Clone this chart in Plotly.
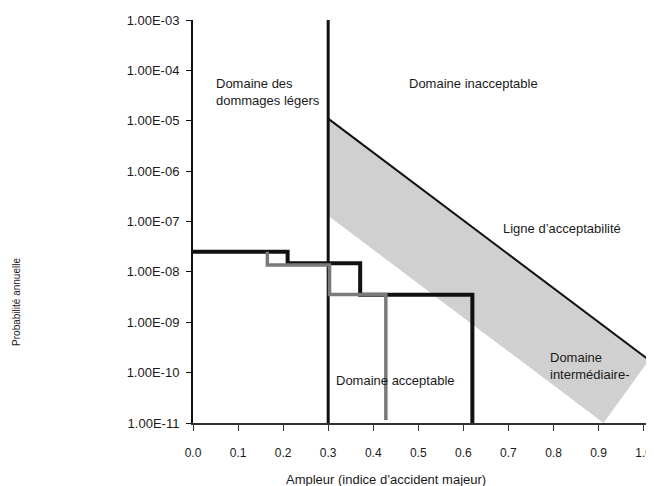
import numpy as np
import plotly.graph_objects as go

# ---- data ----
x_tick_vals = [0.0, 0.1, 0.2, 0.3, 0.4, 0.5, 0.6, 0.7, 0.8, 0.9, 1.0]
x_tick_text = ["0.0", "0.1", "0.2", "0.3", "0.4", "0.5", "0.6", "0.7", "0.8", "0.9", "1.0"]
y_tick_vals = [1e-11, 1e-10, 1e-9, 1e-8, 1e-7, 1e-6, 1e-5, 1e-4, 1e-3]
y_tick_text = ["1.00E-11", "1.00E-10", "1.00E-09", "1.00E-08", "1.00E-07",
               "1.00E-06", "1.00E-05", "1.00E-04", "1.00E-03"]

# boundary of the "domaine des dommages légers"
limit_x = [0.3, 0.3]
limit_y = [1e-11, 1e-3]

# acceptability line
accept_x = [0.3, 1.012]
accept_y = [1.1e-5, 1.78e-10]

# intermediate (gray) band polygon
band_x = [0.3, 1.012, 0.911, 0.3, 0.3]
band_y = [1.1e-5, 1.78e-10, 1e-11, 1.3e-7, 1.1e-5]

# black staircase
black_x = [0.0, 0.21, 0.21, 0.371, 0.371, 0.62, 0.62]
black_y = [2.5e-8, 2.5e-8, 1.48e-8, 1.48e-8, 3.5e-9, 3.5e-9, 1e-11]

# gray staircase
gray_x = [0.165, 0.165, 0.303, 0.303, 0.428, 0.428]
gray_y = [2.5e-8, 1.37e-8, 1.37e-8, 3.55e-9, 3.55e-9, 1.15e-11]

FONT = "Liberation Sans, Arial, sans-serif"
TXT = "#1a1a1a"

fig = go.Figure()
fig.add_trace(go.Scatter(x=band_x, y=band_y, mode="lines", fill="toself",
                         fillcolor="#d0d0d0", line=dict(width=0, color="#d0d0d0"),
                         hoverinfo="skip", showlegend=False))
fig.add_trace(go.Scatter(x=accept_x, y=accept_y, mode="lines",
                         line=dict(color="#111111", width=2), showlegend=False))
fig.add_trace(go.Scatter(x=limit_x, y=limit_y, mode="lines",
                         line=dict(color="#111111", width=3), showlegend=False))
fig.add_trace(go.Scatter(x=black_x, y=black_y, mode="lines",
                         line=dict(color="#111111", width=4), showlegend=False))
fig.add_trace(go.Scatter(x=gray_x, y=gray_y, mode="lines",
                         line=dict(color="#7a7a7a", width=3.5), showlegend=False))

def ann(text, x, ly, **kw):
    d = dict(text=text, x=x, y=ly, xref="x", yref="y", showarrow=False,
             xanchor="left", yanchor="middle", align="left",
             font=dict(family=FONT, size=13, color=TXT))
    d.update(kw)
    fig.add_annotation(**d)

ann("Domaine des<br>dommages légers", 0.047, -4.42)
ann("Domaine inacceptable", 0.474, -4.257)
ann("Ligne d’acceptabilité", 0.683, -7.135)
ann("Domaine acceptable", 0.314, -10.147)
ann("Domaine<br>intermédiaire-", 0.788, -9.86)

# axis titles
fig.add_annotation(text="Ampleur (indice d’accident majeur)", x=0.429, y=-0.141,
                   xref="x", yref="paper", showarrow=False, xanchor="center",
                   yanchor="middle", font=dict(family=FONT, size=13, color=TXT))
fig.add_annotation(text="Probabilité annuelle", x=-0.3886, y=0.300,
                   xref="paper", yref="paper", showarrow=False, textangle=-90,
                   xanchor="center", yanchor="middle",
                   font=dict(family=FONT, size=10, color=TXT))

fig.update_xaxes(range=[0, 1.012], tickvals=x_tick_vals, ticktext=x_tick_text,
                 showgrid=False, zeroline=False, showline=True, linecolor="#333333",
                 linewidth=1.5, ticks="outside", ticklen=6, tickcolor="#333333",
                 tickwidth=1, ticklabelstandoff=12, ticklabeloverflow="allow",
                 tickfont=dict(family=FONT, size=12, color=TXT))
fig.update_yaxes(type="log", range=[-11, -3], tickvals=y_tick_vals, ticktext=y_tick_text,
                 showgrid=False, zeroline=False, showline=True, linecolor="#111111",
                 linewidth=2, ticks="outside", ticklen=5, tickcolor="#111111",
                 tickwidth=1, ticklabelstandoff=4, ticklabeloverflow="allow",
                 tickfont=dict(family=FONT, size=13, color=TXT))

fig.update_layout(width=646, height=478, margin=dict(l=185, r=2, t=12, b=63),
                  paper_bgcolor="white", plot_bgcolor="white", showlegend=False)

fig.write_html("out.html")
